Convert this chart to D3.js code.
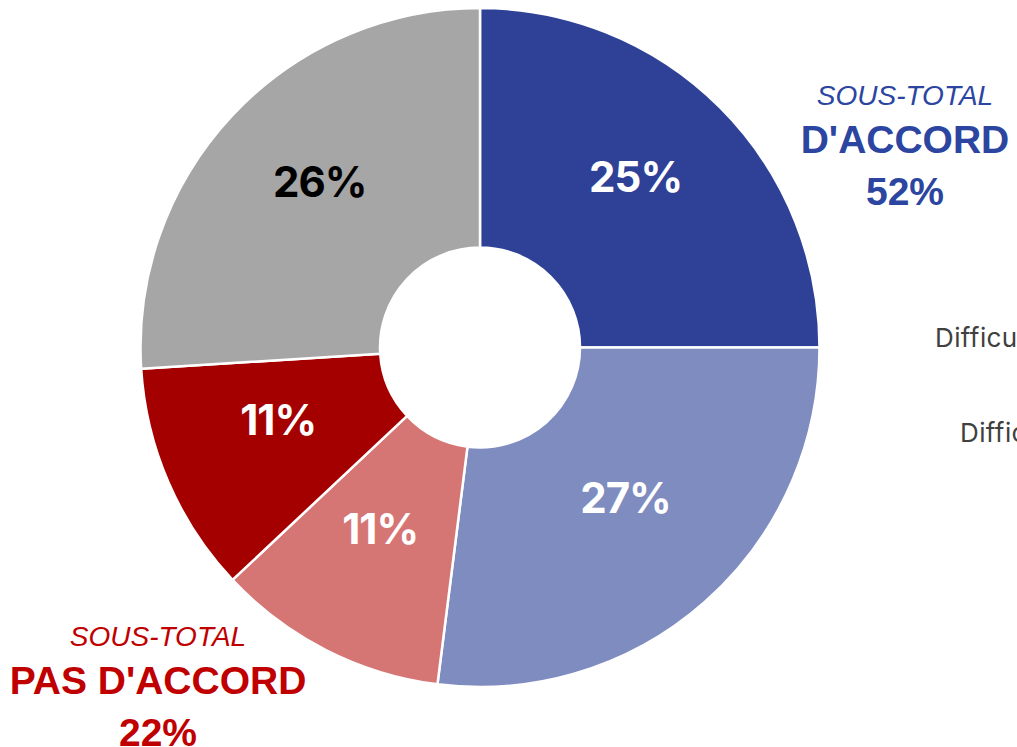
<!DOCTYPE html>
<html>
<head>
<meta charset="utf-8">
<script src="https://cdn.jsdelivr.net/npm/d3@7"></script>
<style>
  html, body { margin: 0; padding: 0; background: #ffffff; overflow: hidden; }
  svg { display: block; }
</style>
</head>
<body>
<svg id="chart" width="1017" height="747"></svg>
<script>
// ---- data ----
const categories = ["Tout à fait d'accord", "Plutôt d'accord", "Plutôt pas d'accord", "Pas du tout d'accord", "Ni d'accord ni pas d'accord"];
const values = [25, 27, 11, 11, 26];
const sliceColors = ["#2E4197", "#7F8CC0", "#D67674", "#A50000", "#A6A6A6"];
const labelColors = ["#ffffff", "#ffffff", "#ffffff", "#ffffff", "#000000"];
const subtotalTitles = ["SOUS-TOTAL", "SOUS-TOTAL"];
const subtotalNames = ["D'ACCORD", "PAS D'ACCORD"];
const subtotalValues = ["52%", "22%"];
const legendTexts = ["Difficultés", "Difficultés"];

const svg = d3.select("#chart");
const cx = 480, cy = 347.5, outerR = 339.5, innerR = 100;

const pie = d3.pie().sort(null).value(d => d)
  .startAngle(0).endAngle(2 * Math.PI);
const arc = d3.arc().innerRadius(innerR).outerRadius(outerR);
const labelArc = d3.arc().innerRadius(220).outerRadius(220);

const g = svg.append("g").attr("transform", `translate(${cx},${cy})`);
const arcs = pie(values);

g.selectAll("path.slice").data(arcs).enter().append("path")
  .attr("class", "slice")
  .attr("d", arc)
  .attr("fill", (d, i) => sliceColors[i])
  .attr("stroke", "#ffffff")
  .attr("stroke-width", 2.5)
  .attr("stroke-linejoin", "round");

g.selectAll("text.lbl").data(arcs).enter().append("text")
  .attr("class", "lbl")
  .attr("x", d => labelArc.centroid(d)[0])
  .attr("y", d => labelArc.centroid(d)[1])
  .attr("text-anchor", "middle")
  .attr("font-family", "Inter, 'Noto Sans', sans-serif")
  .attr("font-weight", 700)
  .attr("font-size", 42)
  .attr("letter-spacing", -1)
  .attr("fill", (d, i) => labelColors[i])
  .text(d => d.data + "%");

// ---- subtotals ----
function subtotal(x, yTop, color, idx) {
  const t = svg.append("g").attr("fill", color).attr("text-anchor", "middle")
    .attr("font-family", "'Liberation Sans', Arial, sans-serif");
  t.append("text").attr("x", x).attr("y", yTop)
    .attr("font-style", "italic").attr("font-size", 28)
    .text(subtotalTitles[idx]);
  t.append("text").attr("x", x).attr("y", yTop + 48)
    .attr("font-weight", 700).attr("font-size", 39)
    .text(subtotalNames[idx]);
  t.append("text").attr("x", x).attr("y", yTop + 100)
    .attr("font-weight", 700).attr("font-size", 39)
    .text(subtotalValues[idx]);
}
subtotal(905, 105, "#2B45A0", 0);
subtotal(158, 646, "#C00000", 1);

// ---- legend (clipped at right edge, as in the reference) ----
const legendPos = [[935, 347], [960, 442]];
svg.selectAll("text.leg").data(legendTexts).enter().append("text")
  .attr("class", "leg")
  .attr("x", (d, i) => legendPos[i][0])
  .attr("y", (d, i) => legendPos[i][1])
  .attr("font-family", "Inter, 'Noto Sans', sans-serif")
  .attr("font-size", 26)
  .attr("letter-spacing", 0.4)
  .attr("fill", "#404040")
  .text(d => d);
</script>
</body>
</html>
